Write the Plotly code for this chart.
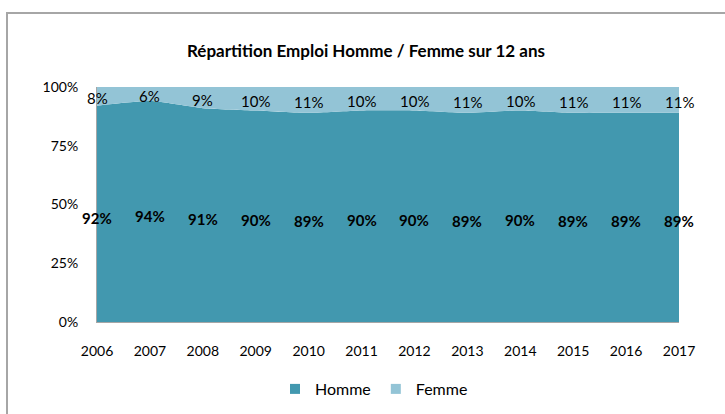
import plotly.graph_objects as go

years = [2006, 2007, 2008, 2009, 2010, 2011, 2012, 2013, 2014, 2015, 2016, 2017]
homme = [92, 94, 91, 90, 89, 90, 90, 89, 90, 89, 89, 89]
femme = [8, 6, 9, 10, 11, 10, 10, 11, 10, 11, 11, 11]
ytick_vals = [0, 0.25, 0.5, 0.75, 1.0]
ytick_text = ["0%", "25%", "50%", "75%", "100%"]

C_HOMME = "#4298AF"
C_FEMME = "#93C4D6"
FONT = "Lato"

h = [v / 100 for v in homme]
f = [v / 100 for v in femme]

fig = go.Figure()
fig.add_trace(go.Scatter(x=years, y=h, name="Homme", stackgroup="one", mode="none",
                         fillcolor=C_HOMME, line=dict(shape="spline", smoothing=0.6),
                         showlegend=False, hoverinfo="skip"))
fig.add_trace(go.Scatter(x=years, y=f, name="Femme", stackgroup="one", mode="none",
                         fillcolor=C_FEMME, line=dict(shape="spline", smoothing=0.6),
                         showlegend=False, hoverinfo="skip"))

# legend entries (square markers)
for name, col in [("Homme", C_HOMME), ("Femme", C_FEMME)]:
    fig.add_trace(go.Scatter(x=[None], y=[None], mode="markers", name=name,
                             marker=dict(symbol="square", size=10, color=col)))

L, R, T, B = 97, 46, 87, 92
W, H = 725, 414
pw = W - L - R
ph = H - T - B

def px_x(px):
    return (px - L) / pw

def px_y(py):
    return (H - B - py) / ph

annotations = [dict(text="<b>Répartition Emploi Homme / Femme sur 12 ans</b>",
                    xref="paper", yref="paper", x=px_x(366), y=px_y(50),
                    xanchor="center", yanchor="middle", showarrow=False,
                    font=dict(family=FONT, size=17, color="#000000"))]

# data labels
for yr, hv, fv, hh, ff in zip(years, homme, femme, h, f):
    annotations.append(dict(x=yr, y=hh / 2, text=f"<b>{hv}%</b>", showarrow=False,
                            xanchor="center", yanchor="middle", yshift=-4,
                            font=dict(family=FONT, size=15, color="#000000")))
    annotations.append(dict(x=yr, y=hh + ff / 2, text=f"{fv}%", showarrow=False,
                            xanchor="center", yanchor="middle", yshift=-2,
                            font=dict(family=FONT, size=15, color="#000000")))

fig.update_layout(
    width=W, height=H,
    margin=dict(l=L, r=R, t=T, b=B, autoexpand=False),
    paper_bgcolor="white", plot_bgcolor="white",
    font=dict(family=FONT, size=14, color="#000000"),
    showlegend=True,
    hovermode=False,
    legend=dict(orientation="h", x=px_x(374), y=px_y(389), xanchor="center", yanchor="middle",
                font=dict(family=FONT, size=16), itemwidth=30, traceorder="normal",
                tracegroupgap=0),
    xaxis=dict(range=[2006, 2017], tickvals=years, ticktext=[str(y) for y in years],
               showgrid=False, zeroline=False, showline=True, linecolor="#A6A6A6", linewidth=1,
               ticks="", ticklabelstandoff=16, tickfont=dict(family=FONT, size=14)),
    yaxis=dict(range=[0, 1], tickvals=ytick_vals, ticktext=ytick_text,
               showgrid=False, zeroline=False, showline=True, linecolor="#A6A6A6", linewidth=1,
               ticks="", ticklabelstandoff=15, tickfont=dict(family=FONT, size=14)),
    annotations=annotations,
    shapes=[dict(type="rect", xref="paper", yref="paper",
                 x0=px_x(7), x1=px_x(760), y0=px_y(450), y1=px_y(13),
                 line=dict(color="#A6A6A6", width=2), fillcolor="rgba(0,0,0,0)", layer="above")],
)

fig.write_html("out.html", config={"displayModeBar": False},
               post_script="document.body.style.margin='0';")
